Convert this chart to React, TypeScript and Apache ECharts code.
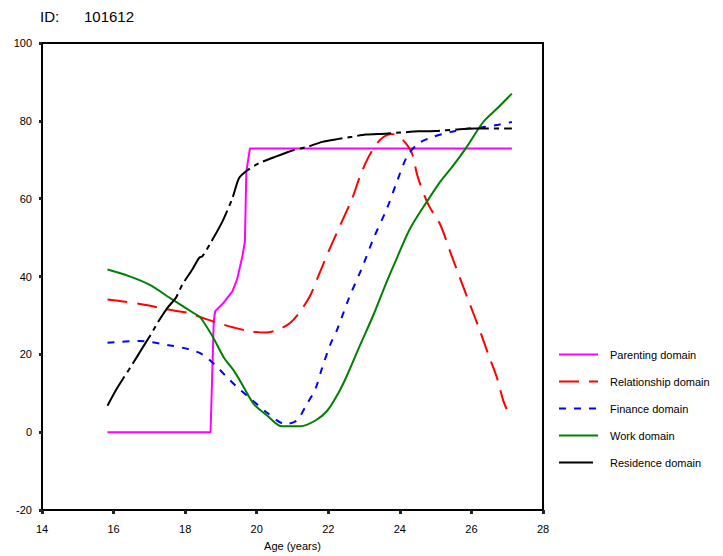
import React, { useEffect, useRef } from "react";
import * as echarts from "echarts";

const xTicks = [14, 16, 18, 20, 22, 24, 26, 28];
const yTicks = [-20, 0, 20, 40, 60, 80, 100];

const parentingAge = [15.83, 18.71, 18.8, 18.84, 19.07, 19.32, 19.45, 19.6, 19.67, 19.71, 19.81, 27.13];
const parentingVal = [0, 0, 28.6, 31.1, 33.2, 36.2, 39.2, 45.2, 49, 66.9, 72.9, 72.9];

const relationshipAge = [15.83, 16.34, 16.9, 17.22, 17.64, 18.06, 18.48, 18.9, 19.36, 19.78, 20.25, 20.62, 20.94, 21.22, 21.5, 21.69, 22.01, 22.34, 22.67, 22.9, 23.13, 23.36, 23.55, 23.75, 23.92, 24.15, 24.34, 24.5, 24.8, 25.13, 25.4, 25.68, 25.96, 26.24, 26.47, 26.71, 26.89, 27.06];
const relationshipVal = [34.1, 33.5, 32.7, 32.1, 31.3, 30.7, 29.4, 28.1, 26.9, 26, 25.6, 26.4, 28.1, 31.1, 35.2, 39.4, 46.5, 53.3, 60.1, 66.1, 70.8, 74.2, 75.9, 76.6, 76.3, 74.4, 71.6, 65.6, 58.4, 53.3, 46.5, 39.6, 32.8, 26, 20, 14.1, 8.1, 4.3];

const financeAge = [15.83, 16.71, 17.64, 18.1, 18.48, 18.81, 19.13, 19.46, 19.78, 20.29, 20.8, 21.12, 21.4, 21.64, 21.83, 22.06, 22.25, 22.58, 22.94, 23.27, 23.64, 23.92, 24.2, 24.52, 24.93, 25.4, 25.87, 26.33, 26.75, 27.13];
const financeVal = [23, 23.4, 22.2, 21.3, 20, 17.5, 14.5, 11.5, 9, 5, 2.1, 3, 7.2, 11.1, 16.6, 22.6, 26.4, 34.5, 42.2, 49.9, 57.5, 64.4, 70.8, 74.2, 75.9, 77.1, 78, 78.4, 79, 79.7];

const workAge = [15.83, 16.43, 17.0, 17.64, 18.29, 18.43, 18.76, 19.08, 19.36, 19.64, 19.92, 20.29, 20.71, 21.22, 21.64, 21.97, 22.29, 22.52, 22.9, 23.27, 23.64, 23.92, 24.29, 24.76, 25.13, 25.5, 25.87, 26.33, 26.71, 27.13];
const workVal = [41.8, 40.1, 37.9, 34.1, 30.3, 29.4, 24.7, 19.2, 15.8, 11.5, 7.2, 4.3, 1.5, 1.5, 3, 5.5, 10.2, 14.5, 22.6, 30.3, 38.8, 44.8, 52.4, 59.3, 64.4, 68.6, 73.3, 79.7, 83.1, 87];

const residenceAge = [15.83, 16.06, 16.29, 16.53, 16.81, 16.99, 17.23, 17.51, 17.74, 17.92, 18.2, 18.39, 18.48, 18.71, 19.04, 19.32, 19.5, 19.74, 20.06, 20.53, 21.04, 21.41, 21.83, 22.25, 22.67, 23.04, 23.6, 24.02, 24.52, 25.0, 25.6, 26.1, 27.13];
const residenceVal = [6.8, 10.7, 14.1, 17.5, 21.7, 24.3, 28.1, 32, 34.5, 37.9, 41.8, 44.8, 45.2, 48.6, 54.1, 60.1, 65.2, 67.3, 69.1, 70.8, 72.5, 73.3, 74.6, 75.3, 75.9, 76.5, 76.7, 77, 77.3, 77.4, 77.8, 78, 78];

const zip = (a: number[], b: number[]) => a.map((x, i) => [x, b[i]]);

export default function App() {
  const ref = useRef<HTMLDivElement>(null);
  useEffect(() => {
    if (!ref.current) return;
    const chart = echarts.init(ref.current, undefined, { renderer: "svg" });
    const font = "Liberation Sans, Arial, sans-serif";
    const mk = (name: string, age: number[], val: number[], color: string, type: any, smooth: number) => ({
      name,
      type: "line",
      data: zip(age, val),
      symbol: "none",
      showSymbol: false,
      smooth,
      lineStyle: { color, width: 2, type, cap: "butt" },
      itemStyle: { color },
    });
    chart.setOption({
      animation: false,
      backgroundColor: "#fff",
      textStyle: { fontFamily: font },
      graphic: [
        { type: "text", left: 40, top: 9, style: { text: "ID:", font: `15px ${font}`, fill: "#000" } },
        { type: "text", left: 84, top: 9, style: { text: "101612", font: `15px ${font}`, fill: "#000" } },
      ],
      grid: { left: 42, right: 180, top: 43, bottom: 43, show: true, borderColor: "#000", borderWidth: 2, backgroundColor: "transparent" },
      legend: {
        orient: "vertical",
        left: 558,
        top: 349,
        padding: 0,
        itemWidth: 39,
        itemHeight: 12,
        itemGap: 16,
        itemStyle: { opacity: 0, borderWidth: 0 },
        textStyle: { fontSize: 11, color: "#000", fontFamily: font, padding: [0, 0, 0, 7] },
        data: ["Parenting domain", "Relationship domain", "Finance domain", "Work domain", "Residence domain"],
      },
      xAxis: {
        type: "value",
        min: xTicks[0],
        max: xTicks[xTicks.length - 1],
        interval: 2,
        name: "Age (years)",
        nameLocation: "middle",
        nameGap: 30,
        nameTextStyle: { fontSize: 11, color: "#000", fontFamily: font },
        axisLine: { show: true, onZero: false, lineStyle: { color: "#000", width: 2 } },
        axisTick: { show: true, length: 4, lineStyle: { color: "#222", width: 3 } },
        axisLabel: { fontSize: 11, color: "#000", margin: 13, fontFamily: font },
        splitLine: { show: false },
      },
      yAxis: {
        type: "value",
        min: yTicks[0],
        max: yTicks[yTicks.length - 1],
        interval: 20,
        axisLine: { show: true, onZero: false, lineStyle: { color: "#000", width: 2 } },
        axisTick: { show: true, length: 3, lineStyle: { color: "#222", width: 3 } },
        axisLabel: { fontSize: 11, color: "#000", margin: 10, fontFamily: font },
        splitLine: { show: false },
      },
      series: [
        mk("Parenting domain", parentingAge, parentingVal, "#ff00ff", "solid", 0),
        mk("Relationship domain", relationshipAge, relationshipVal, "#ff0000", [20, 10], 0.3),
        mk("Finance domain", financeAge, financeVal, "#0000ff", [7, 8], 0.3),
        mk("Work domain", workAge, workVal, "#008000", "solid", 0.3),
        mk("Residence domain", residenceAge, residenceVal, "#000000", [34, 5, 5, 5], 0.2),
      ],
    });
    return () => chart.dispose();
  }, []);
  return <div ref={ref} style={{ position: "fixed", left: 0, top: 0, width: 723, height: 556 }} />;
}
